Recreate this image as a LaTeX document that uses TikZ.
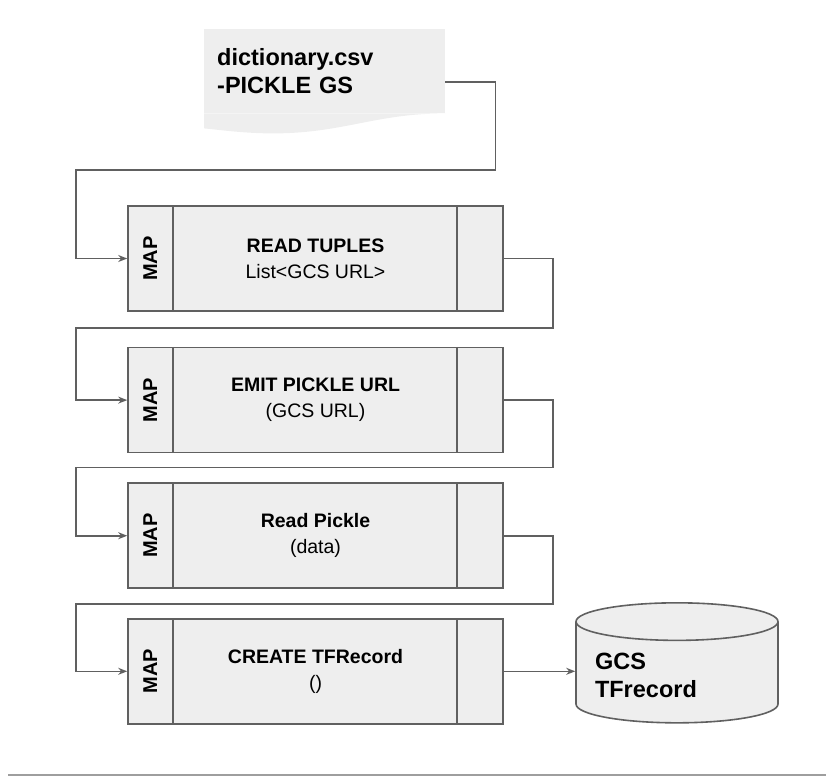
\documentclass[tikz,border=0pt]{standalone}
\usepackage{fontspec}
\setmainfont{Liberation Sans}
\usetikzlibrary{arrows.meta, positioning, calc, shapes.geometric}

\definecolor{boxfill}{HTML}{EEEEEE}
\definecolor{boxline}{HTML}{606060}
\definecolor{rulegray}{HTML}{9E9E9E}

\begin{document}
\begin{tikzpicture}[
  x=1pt, y=-1pt,
  stage/.style={rectangle, draw=boxline, fill=boxfill, line width=1.6pt,
                minimum width=375pt, minimum height=105pt, align=center,
                inner sep=0pt, font=\fontsize{19.5}{26}\selectfont},
  maplbl/.style={rotate=90, inner sep=0pt, font=\bfseries\fontsize{20}{22}\selectfont},
  lane/.style={draw=boxline, line width=1.6pt},
  arr/.style={-{Stealth[length=9pt, width=7pt]}, draw=boxline, line width=1.6pt},
  dbcyl/.style={cylinder, shape border rotate=90, aspect=0.22, draw=boxline,
                fill=boxfill, line width=1.6pt, minimum width=202pt,
                minimum height=120pt, text width=164pt, align=left,
                font=\bfseries\fontsize{23.5}{28}\selectfont}
]
\useasboundingbox (0,0) rectangle (826,776);

% source file
\node[fill=boxfill, anchor=north west, minimum width=241pt, minimum height=84pt,
      text width=215pt, align=left, inner sep=0pt,
      font=\bfseries\fontsize{23.5}{28}\selectfont] (doc) at (204,29)
  {dictionary.csv\\-PICKLE GS};
\fill[boxfill] (doc.south east) .. controls +(-70,0) and +(70,0) ..
  ($(doc.south west)+(69,20)$) .. controls +(-30,0) and +(12,1) ..
  ($(doc.south west)+(0,15)$) -- (doc.south west) -- cycle;
\coordinate (docout) at ($(doc.north east)+(0,53)$);

% pipeline stages
\node[stage] (tuples) at (315.5,258.5) {\textbf{READ TUPLES}\\List<GCS URL>};
\node[stage, below=35pt of tuples] (emiturl) {\textbf{EMIT PICKLE URL}\\(GCS URL)};
\node[stage, below=29pt of emiturl] (readpkl) {\textbf{Read Pickle}\\(data)};
\node[stage, below=29pt of readpkl] (createrec) {\textbf{CREATE TFRecord}\\()};

\draw[lane] ($(tuples.north west)+(46,0)$) -- ($(tuples.south west)+(46,0)$);
\draw[lane] ($(tuples.north east)+(-47,0)$) -- ($(tuples.south east)+(-47,0)$);
\draw[lane] ($(emiturl.north west)+(46,0)$) -- ($(emiturl.south west)+(46,0)$);
\draw[lane] ($(emiturl.north east)+(-47,0)$) -- ($(emiturl.south east)+(-47,0)$);
\draw[lane] ($(readpkl.north west)+(46,0)$) -- ($(readpkl.south west)+(46,0)$);
\draw[lane] ($(readpkl.north east)+(-47,0)$) -- ($(readpkl.south east)+(-47,0)$);
\draw[lane] ($(createrec.north west)+(46,0)$) -- ($(createrec.south west)+(46,0)$);
\draw[lane] ($(createrec.north east)+(-47,0)$) -- ($(createrec.south east)+(-47,0)$);

\node[maplbl] (map1) at ($(tuples.west)+(23,0)$) {MAP};
\node[maplbl] (map2) at ($(emiturl.west)+(23,0)$) {MAP};
\node[maplbl] (map3) at ($(readpkl.west)+(23,0)$) {MAP};
\node[maplbl] (map4) at ($(createrec.west)+(23,0)$) {MAP};

% output store
\node[dbcyl] (store) at (677,675) {GCS\\TFrecord};

% connectors
\draw[arr] (docout) -| ($(docout)+(50,88)$) -| ($(tuples.west)+(-51,0)$) -- (tuples.west);
\draw[arr] (tuples.east) -- ++(49,0) |- ($(tuples.south)+(0,16)$)
  -| ($(emiturl.west)+(-51,0)$) -- (emiturl.west);
\draw[arr] (emiturl.east) -- ++(49,0) |- ($(emiturl.south)+(0,14)$)
  -| ($(readpkl.west)+(-51,0)$) -- (readpkl.west);
\draw[arr] (readpkl.east) -- ++(49,0) |- ($(readpkl.south)+(0,15)$)
  -| ($(createrec.west)+(-51,0)$) -- (createrec.west);
\draw[arr] (createrec.east) -- (createrec.east -| store.west);

\draw[rulegray, line width=2pt] (8,775) -- (826,775);
\end{tikzpicture}
\end{document}
